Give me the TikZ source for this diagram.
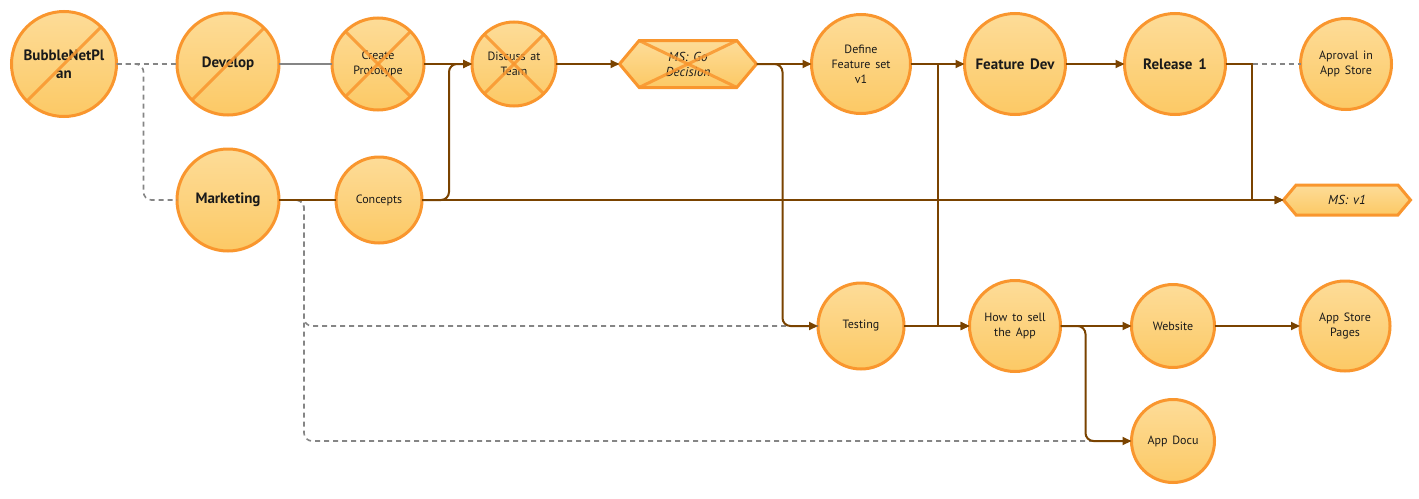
\documentclass[tikz,border=0pt]{standalone}
\usepackage{fontspec}
\setmainfont{PT Sans}[WordSpace=1.5]
\usetikzlibrary{arrows.meta,shapes.symbols,calc}
\definecolor{ortop}{HTML}{FDDC98}
\definecolor{orbot}{HTML}{FCC965}
\definecolor{orline}{HTML}{F9962E}
\definecolor{brn}{HTML}{7A4300}
\definecolor{gry}{HTML}{858585}
\definecolor{txt}{HTML}{1A1A1A}
\tikzset{
  bub/.style={circle, draw=orline, line width=3pt, top color=ortop, bottom color=orbot,
    inner sep=0pt, outer sep=0pt, align=center, text=txt,
    font=\fontsize{12}{15}\selectfont},
  big/.style={font=\fontsize{15}{18}\selectfont\bfseries},
  msbox/.style={signal, signal to=west and east, signal pointer angle=100,
    draw=orline, line width=3pt, top color=ortop, bottom color=orbot,
    inner sep=0pt, outer sep=0pt, align=center, text=txt,
    font=\fontsize{13}{15}\selectfont\itshape},
  strike/.style={draw=orline, line width=3pt, opacity=0.85},
  br/.style={draw=brn, line width=2pt},
  arr/.style={-{Triangle[length=9pt,width=8pt]}},
  gd/.style={draw=gry, line width=1.6pt, dash pattern=on 5pt off 4pt},
  gs/.style={draw=gry, line width=1.6pt},
}
\begin{document}
\begin{tikzpicture}[x=1pt,y=-1pt]
\useasboundingbox (0,0) rectangle (1419,498);
% nodes
\node[bub,big,minimum size=105] (bnp) at (64,64) {BubbleNetPl\\an};
\node[bub,big,minimum size=102] (dev) at (228,64) {Develop};
\node[bub,minimum size=92] (cp) at (378,64) {Create\\Prototype};
\node[bub,minimum size=84] (dt) at (514,64) {Discuss at\\Team};
\node[msbox,minimum width=137,minimum height=47] (msgo) at (688,64) {MS: Go\\Decision};
\node[bub,minimum size=99] (dfs) at (861,64) {Define\\Feature set\\v1};
\node[bub,big,minimum size=101] (fd) at (1015,64) {Feature Dev};
\node[bub,big,minimum size=101] (rel) at (1175,64) {Release 1};
\node[bub,minimum size=91] (apr) at (1346,64) {Aproval in\\App Store};
\node[bub,big,minimum size=102] (mkt) at (228,200) {Marketing};
\node[bub,minimum size=86] (con) at (379,200) {Concepts};
\node[msbox,minimum width=127,minimum height=30] (msv) at (1347,200) {MS: v1};
\node[bub,minimum size=86] (tst) at (861,326) {Testing};
\node[bub,minimum size=91] (hts) at (1015,326) {How to sell\\the App};
\node[bub,minimum size=83] (web) at (1173,326) {Website};
\node[bub,minimum size=90] (asp) at (1345,326) {App Store\\Pages};
\node[bub,minimum size=83] (doc) at (1173,441) {App Docu};
% strikes
\draw[strike] (bnp.225) -- (bnp.45);
\draw[strike] (dev.225) -- (dev.45);
\draw[strike] (cp.225) -- (cp.45);
\draw[strike] (cp.135) -- (cp.315);
\draw[strike] (dt.225) -- (dt.45);
\draw[strike] (dt.135) -- (dt.315);
\draw[strike] ([shift={(-49,-23.5)}]msgo.center) -- ([shift={(49,23.5)}]msgo.center);
\draw[strike] ([shift={(-49,23.5)}]msgo.center) -- ([shift={(49,-23.5)}]msgo.center);
% gray connectors
\draw[gd] (bnp.east) -- (dev.west);
\draw[gd,rounded corners=8pt] (bnp.east) -- ++(27,0) |- (mkt.west);
\draw[gs] (dev.east) -- (cp.west);
\draw[gd,rounded corners=8pt] (mkt.east) -- ++(25,0) |- (tst.west);
\draw[gd,rounded corners=8pt] (mkt.east) -- ++(25,0) |- (doc.west);
\draw[gd] (rel.east) -- (apr.west);
% brown connectors
\draw[br] (mkt.east) -- (con.west);
\draw[br,arr] (cp.east) -- (dt.west);
\draw[br,arr,rounded corners=8pt] (con.east) -- ++(27,0) |- (dt.west);
\draw[br,arr] (con.east) -- (msv.west);
\draw[br,arr] (dt.east) -- (msgo.west);
\draw[br,arr] (msgo.east) -- (dfs.west);
\draw[br,arr,rounded corners=8pt] (msgo.east) -- ++(26,0) |- (tst.west);
\draw[br,arr] (dfs.east) -- (fd.west);
\draw[br,arr] (dfs.east) -- ++(27,0) |- (hts.west);
\draw[br,arr] (tst.east) -- (hts.west);
\draw[br,arr] (fd.east) -- (rel.west);
\draw[br] (rel.east) -- ++(26,0);
\draw[br,arr] (rel.east) -- ++(26,0) |- (msv.west);
\draw[br,arr] (hts.east) -- (web.west);
\draw[br,arr,rounded corners=8pt] (hts.east) -- ++(25,0) |- (doc.west);
\draw[br,arr] (web.east) -- (asp.west);
\end{tikzpicture}
\end{document}
